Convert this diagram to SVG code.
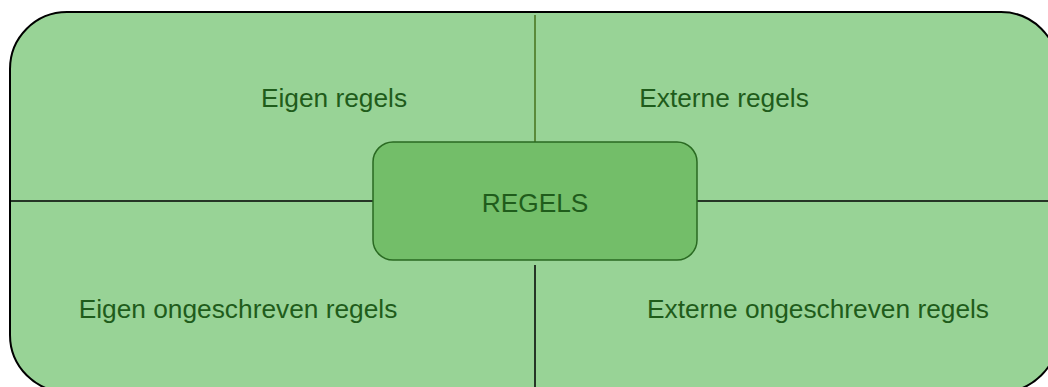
<svg xmlns="http://www.w3.org/2000/svg" width="1048" height="387" viewBox="0 0 1048 387">
<style>
.lbl{font-family:"Liberation Sans",Arial,sans-serif;font-size:26.3px;fill:#1f5c1b;text-anchor:middle}
.ln{stroke:#000;stroke-width:1.5;fill:none}
</style>
<rect width="1048" height="387" fill="#ffffff"/>
<g id="background">
<rect x="10" y="12" width="1048" height="380" rx="57" ry="57" fill="#98d396" stroke="#000" stroke-width="2"/>
</g>
<g id="connectors">
<line x1="535" y1="15" x2="535" y2="142" stroke="#5a8a3a" stroke-width="2"/>
<line class="ln" x1="535" y1="265" x2="535" y2="387" stroke-width="2"/>
<line class="ln" x1="11" y1="201" x2="373" y2="201"/>
<line class="ln" x1="697" y1="201" x2="1048" y2="201"/>
</g>
<g id="eigen-regels"><text class="lbl" x="334" y="107">Eigen regels</text></g>
<g id="externe-regels"><text class="lbl" x="724" y="107">Externe regels</text></g>
<g id="eigen-ongeschreven"><text class="lbl" x="238" y="318">Eigen ongeschreven regels</text></g>
<g id="externe-ongeschreven"><text class="lbl" x="818" y="318">Externe ongeschreven regels</text></g>
<g id="regels">
<rect x="373" y="142" width="324" height="118" rx="20" ry="20" fill="#73be69" stroke="#2a6a22" stroke-width="1.5"/>
<text class="lbl" x="535" y="212">REGELS</text>
</g>
</svg>
